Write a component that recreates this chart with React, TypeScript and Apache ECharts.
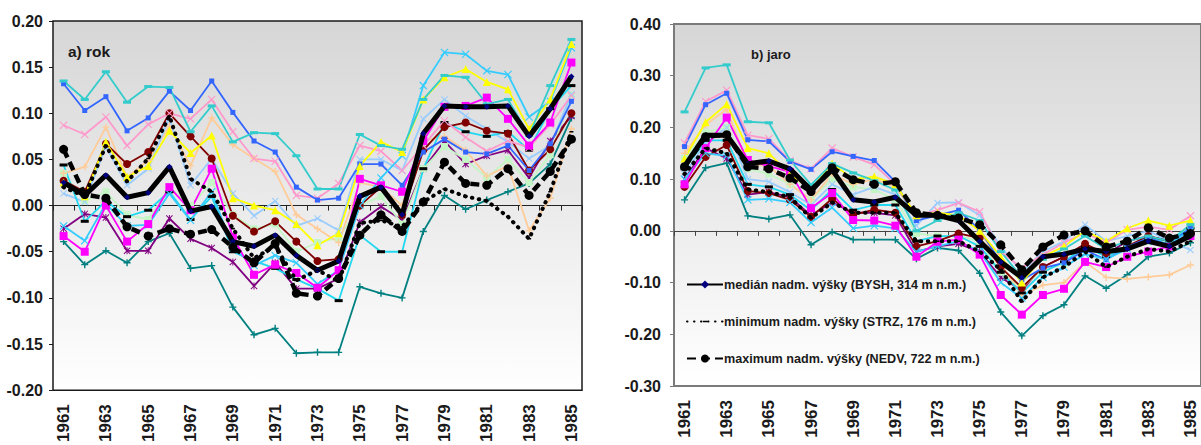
import React, { useEffect, useRef } from "react";
import * as echarts from "echarts";

const years = ["1961","1962","1963","1964","1965","1966","1967","1968","1969","1970","1971","1972","1973","1974","1975","1976","1977","1978","1979","1980","1981","1982","1983","1984","1985"];

// a) rok
const rokAqua = [0.135,0.115,0.145,0.112,0.129,0.128,0.080,0.108,0.069,0.079,0.078,0.054,0.018,0.018,0.077,0.065,0.061,0.115,0.141,0.139,0.110,0.115,0.076,0.130,0.180];
const rokBlue = [0.132,0.103,0.118,0.081,0.095,0.124,0.103,0.135,0.101,0.070,0.058,0.020,0.006,0.008,0.045,0.045,0.022,0.058,0.072,0.058,0.056,0.065,0.038,0.067,0.113];
const rokPink = [0.087,0.077,0.096,0.065,0.088,0.100,0.094,0.115,0.080,0.051,0.048,0.011,0.008,0.024,0.065,0.059,0.038,0.065,0.092,0.074,0.059,0.070,0.063,0.088,0.119];
const rokTan = [0.035,0.042,0.085,0.031,0.049,0.086,0.043,0.095,0.066,0.051,0.037,-0.010,-0.025,-0.040,0.025,0.020,0.000,0.070,0.075,0.060,0.032,0.043,-0.027,0.008,0.083];
const rokMaroon = [0.027,0.015,0.067,0.045,0.058,0.100,0.075,0.051,-0.011,-0.028,-0.017,-0.039,-0.060,-0.058,0.000,0.020,-0.010,0.060,0.085,0.090,0.081,0.078,0.038,0.061,0.100];
const rokYellow = [0.025,0.010,0.069,0.031,0.043,0.081,0.057,0.076,0.008,0.000,-0.005,-0.020,-0.043,-0.030,0.043,0.069,0.058,0.115,0.139,0.148,0.134,0.126,0.083,0.115,0.175];
const rokCyan = [-0.022,-0.038,0.002,-0.022,-0.021,0.013,-0.016,0.015,-0.046,-0.065,-0.054,-0.062,-0.085,-0.070,0.000,0.030,0.054,0.130,0.166,0.164,0.146,0.142,0.096,0.113,0.171];
const rokCyan2 = [0.044,-0.017,0.005,-0.012,-0.005,0.015,-0.015,0.010,-0.050,-0.060,-0.068,-0.080,-0.090,-0.103,-0.032,-0.050,-0.050,0.040,0.090,0.080,0.075,0.080,0.060,0.105,0.130];
const rokMagenta = [-0.033,-0.050,0.000,-0.039,-0.020,0.020,-0.005,0.040,-0.034,-0.075,-0.064,-0.073,-0.089,-0.070,0.029,0.022,0.015,0.070,0.107,0.108,0.117,0.094,0.065,0.090,0.155];
const rokLightBlue = [0.013,0.004,0.064,0.022,0.040,0.095,0.022,0.051,0.013,-0.011,0.005,-0.022,-0.014,-0.027,0.050,0.050,0.038,0.094,0.115,0.097,0.083,0.069,0.051,0.065,0.121];
const rokLightGreen = [0.035,0.005,0.015,-0.010,-0.015,0.020,0.000,0.025,-0.010,-0.025,-0.020,-0.050,-0.040,-0.035,0.000,0.010,-0.020,0.040,0.064,0.050,0.030,0.050,0.025,0.055,0.120];
const rokPurple = [-0.025,-0.009,-0.013,-0.049,-0.049,-0.014,-0.036,-0.046,-0.061,-0.087,-0.062,-0.090,-0.090,-0.079,-0.018,-0.001,-0.016,0.040,0.070,0.045,0.054,0.060,0.030,0.070,0.097];
const rokTeal = [-0.039,-0.064,-0.049,-0.062,-0.039,-0.030,-0.068,-0.065,-0.110,-0.140,-0.133,-0.160,-0.159,-0.159,-0.088,-0.095,-0.100,-0.028,0.011,-0.004,0.006,0.015,0.024,0.045,0.095];
const rokMedian = [0.025,0.011,0.033,0.009,0.014,0.042,-0.006,-0.001,-0.039,-0.044,-0.032,-0.054,-0.070,-0.060,0.010,0.020,-0.010,0.078,0.108,0.107,0.107,0.108,0.075,0.105,0.140];
const rokMin = [0.020,0.010,0.065,0.026,0.051,0.097,0.029,0.015,-0.025,-0.057,-0.044,-0.081,-0.070,-0.082,-0.019,-0.016,-0.023,0.004,0.018,0.010,0.005,-0.012,-0.036,0.015,0.080];
const rokMax = [0.061,0.012,0.008,-0.023,-0.033,-0.025,-0.031,-0.026,-0.045,-0.062,-0.041,-0.095,-0.098,-0.079,-0.032,-0.010,-0.028,0.004,0.047,0.024,0.022,0.040,0.011,0.037,0.072];

// b) jaro
const jaroAqua = [0.230,0.315,0.321,0.211,0.209,0.137,0.089,0.130,0.112,0.097,0.079,0.000,0.020,0.035,0.020,-0.040,-0.090,-0.055,-0.035,-0.010,-0.035,-0.020,-0.010,-0.020,0.012];
const jaroBlue = [0.163,0.244,0.266,0.176,0.173,0.134,0.119,0.153,0.144,0.136,0.095,0.020,0.030,0.040,0.002,-0.060,-0.095,-0.072,-0.062,-0.037,-0.056,-0.031,-0.014,-0.027,0.006];
const jaroPink = [0.170,0.250,0.272,0.185,0.178,0.136,0.120,0.160,0.143,0.128,0.090,0.030,0.040,0.054,0.037,-0.040,-0.072,-0.046,-0.023,-0.004,-0.023,0.002,0.008,0.002,0.029];
const jaroTan = [0.150,0.205,0.235,0.130,0.125,0.090,0.060,0.110,0.090,0.100,0.085,0.030,0.031,0.029,0.000,-0.065,-0.125,-0.105,-0.100,-0.060,-0.090,-0.093,-0.089,-0.085,-0.066];
const jaroYellow = [0.140,0.210,0.245,0.160,0.150,0.110,0.080,0.130,0.100,0.105,0.090,0.030,0.035,0.030,0.000,-0.050,-0.100,-0.050,-0.030,0.000,-0.020,0.005,0.020,0.010,0.020];
const jaroMaroon = [0.085,0.143,0.166,0.077,0.073,0.060,0.027,0.062,0.031,0.041,0.035,-0.030,-0.020,-0.005,-0.014,-0.070,-0.110,-0.070,-0.050,-0.025,-0.045,-0.030,-0.010,-0.020,-0.005];
const jaroCyan = [0.100,0.150,0.145,0.060,0.062,0.055,0.016,0.045,0.005,0.010,0.005,-0.040,-0.030,-0.020,-0.040,-0.100,-0.130,-0.090,-0.070,-0.045,-0.055,-0.035,-0.020,-0.025,0.000];
const jaroCyan2 = [0.120,0.175,0.175,0.090,0.085,0.070,0.040,0.080,0.040,0.050,0.050,-0.020,-0.010,-0.010,-0.030,-0.080,-0.120,-0.080,-0.060,-0.030,-0.050,-0.030,-0.015,-0.020,0.005];
const jaroMagenta = [0.090,0.160,0.219,0.137,0.125,0.114,0.044,0.073,0.021,0.020,0.010,-0.050,-0.021,-0.017,-0.046,-0.124,-0.162,-0.124,-0.112,-0.060,-0.070,-0.050,-0.040,-0.030,-0.010];
const jaroLightBlue = [0.110,0.170,0.200,0.100,0.095,0.075,0.050,0.090,0.070,0.085,0.070,0.010,0.054,0.055,0.030,-0.030,-0.080,-0.040,-0.020,0.012,-0.020,-0.010,0.000,-0.020,-0.037];
const jaroLightGreen = [0.140,0.190,0.200,0.120,0.110,0.090,0.060,0.100,0.085,0.080,0.060,-0.005,-0.010,-0.010,-0.020,-0.080,-0.110,-0.075,-0.065,-0.030,-0.050,-0.030,-0.020,-0.020,0.010];
const jaroPurple = [0.100,0.160,0.140,0.070,0.075,0.065,0.030,0.055,0.035,0.035,0.030,-0.040,-0.030,-0.025,-0.040,-0.090,-0.115,-0.070,-0.050,-0.030,-0.045,-0.020,-0.010,-0.020,-0.010];
const jaroTeal = [0.060,0.122,0.131,0.029,0.023,0.031,-0.027,-0.002,-0.017,-0.017,-0.017,-0.054,-0.033,-0.038,-0.082,-0.157,-0.203,-0.164,-0.143,-0.087,-0.111,-0.085,-0.050,-0.043,-0.023];
const jaroMedian = [0.125,0.185,0.185,0.130,0.135,0.120,0.079,0.118,0.060,0.056,0.065,0.030,0.030,0.020,-0.020,-0.060,-0.090,-0.050,-0.045,-0.035,-0.040,-0.035,-0.020,-0.030,-0.010];
const jaroMin = [0.110,0.160,0.150,0.080,0.075,0.065,0.025,0.055,0.035,0.035,0.035,-0.020,-0.020,-0.020,-0.040,-0.075,-0.137,-0.090,-0.070,-0.040,-0.070,-0.050,-0.035,-0.040,-0.020];
const jaroMax = [0.124,0.182,0.186,0.124,0.120,0.102,0.076,0.122,0.099,0.090,0.095,0.035,0.030,0.025,0.012,-0.027,-0.075,-0.031,-0.008,0.000,-0.031,-0.020,0.006,-0.014,-0.005];

const legendNames = [
  "medián nadm. výšky (BYSH, 314 m n.m.)",
  "minimum nadm. výšky (STRZ, 176 m n.m.)",
  "maximum nadm. výšky (NEDV, 722 m n.m.)",
];

const FONT = "'Liberation Sans', Arial, sans-serif";
const X_SYM = "path://M0,1L1,0L5,4L9,0L10,1L6,5L10,9L9,10L5,6L1,10L0,9L4,5Z";
const PLUS_SYM = "path://M4,0H6V4H10V6H6V10H4V6H0V4H4Z";
const STAR_SYM = "path://M0,1L1,0L5,4L9,0L10,1L6,5L10,9L9,10L5,6L1,10L0,9L4,5ZM4.3,0H5.7V10H4.3Z";
const SMALL_DASH_SYM = "path://M0,0L0.01,0L0,0.01ZM10,10L9.99,10L10,9.99ZM2.5,4H7.5V6H2.5Z";

type Spec = { rok: number[]; jaro: number[]; color: string; symbol: string; size: number | number[]; mark?: string };

const specs: Spec[] = [
  { rok: rokTeal, jaro: jaroTeal, color: "#008080", symbol: PLUS_SYM, size: 7 },
  { rok: rokPurple, jaro: jaroPurple, color: "#800080", symbol: STAR_SYM, size: 7 },
  { rok: rokLightGreen, jaro: jaroLightGreen, color: "#C4F5C4", symbol: "rect", size: 7 },
  { rok: rokTan, jaro: jaroTan, color: "#FFCC99", symbol: PLUS_SYM, size: 7 },
  { rok: rokLightBlue, jaro: jaroLightBlue, color: "#99CCFF", symbol: X_SYM, size: 7 },
  { rok: rokCyan2, jaro: jaroCyan2, color: "#22D8F0", symbol: "rect", size: [8, 3], mark: "#000000" },
  { rok: rokMaroon, jaro: jaroMaroon, color: "#800000", symbol: "circle", size: 8 },
  { rok: rokPink, jaro: jaroPink, color: "#FF99CC", symbol: X_SYM, size: 8 },
  { rok: rokBlue, jaro: jaroBlue, color: "#3366FF", symbol: "rect", size: 5 },
  { rok: rokCyan, jaro: jaroCyan, color: "#33CCFF", symbol: X_SYM, size: 8 },
  { rok: rokMagenta, jaro: jaroMagenta, color: "#FF00FF", symbol: "rect", size: 8 },
  { rok: rokYellow, jaro: jaroYellow, color: "#FFFF00", symbol: "triangle", size: 8 },
  { rok: rokAqua, jaro: jaroAqua, color: "#33CCCC", symbol: "rect", size: [8, 3] },
];

function buildOption() {
  const gradient = () =>
    new echarts.graphic.LinearGradient(0, 0, 0, 1, [
      { offset: 0, color: "#D6D6D6" },
      { offset: 1, color: "#FFFFFF" },
    ]);

  const series: any[] = [];
  [0, 1].forEach((g) => {
    specs.forEach((s) => {
      series.push({
        type: "line",
        xAxisIndex: g * 2,
        yAxisIndex: g,
        data: g === 0 ? s.rok : s.jaro,
        symbol: s.symbol,
        symbolSize: s.size,
        lineStyle: { color: s.color, width: 1.8 },
        itemStyle: { color: s.mark || s.color },
        silent: true,
        z: 2,
      });
    });
    const med = g === 0 ? rokMedian : jaroMedian;
    const mn = g === 0 ? rokMin : jaroMin;
    const mx = g === 0 ? rokMax : jaroMax;
    series.push({
      name: g === 1 ? legendNames[0] : "rok-median",
      type: "line",
      xAxisIndex: g * 2,
      yAxisIndex: g,
      data: med,
      symbol: "diamond",
      symbolSize: 6,
      lineStyle: { color: "#000000", width: 5 },
      itemStyle: { color: "#000080" },
      silent: true,
      z: 4,
    });
    series.push({
      name: g === 1 ? legendNames[1] : "rok-min",
      type: "line",
      xAxisIndex: g * 2,
      yAxisIndex: g,
      data: mn,
      symbol: SMALL_DASH_SYM,
      symbolSize: 8,
      lineStyle: { color: "#000000", width: 4, type: [0.5, 6.5], cap: "round" },
      itemStyle: { color: "#000000" },
      silent: true,
      z: 4,
    });
    series.push({
      name: g === 1 ? legendNames[2] : "rok-max",
      type: "line",
      xAxisIndex: g * 2,
      yAxisIndex: g,
      data: mx,
      symbol: "circle",
      symbolSize: 9,
      lineStyle: { color: "#000000", width: 4.5, type: [9, 5] },
      itemStyle: { color: "#000000" },
      silent: true,
      z: 4,
    });
  });

  const axisColors = ["#1a1a1a", "#7a7a7a"];
  const xAxes: any[] = [];
  [0, 1].forEach((g) => {
    xAxes.push({
      type: "category",
      gridIndex: g,
      data: years,
      boundaryGap: true,
      axisLine: { show: true, onZero: true, lineStyle: { color: g === 0 ? "#222" : "#444", width: 1 } },
      axisTick: { show: true, interval: 0, length: 5, lineStyle: { color: g === 0 ? "#222" : "#444" } },
      axisLabel: { show: false },
      splitLine: { show: false },
    });
    xAxes.push({
      type: "category",
      gridIndex: g,
      data: years,
      position: "bottom",
      boundaryGap: true,
      axisLine: { show: false, onZero: false },
      axisTick: { show: false },
      axisLabel: {
        show: true,
        rotate: 90,
        interval: 1,
        margin: 14,
        fontFamily: FONT,
        fontWeight: "bold",
        fontSize: 17,
        color: "#1a1a1a",
      },
      splitLine: { show: false },
    });
  });

  const yAxes: any[] = [
    {
      type: "value",
      gridIndex: 0,
      min: -0.2,
      max: 0.2,
      interval: 0.05,
      axisLine: { show: false },
      axisTick: { show: true, length: 4, lineStyle: { color: axisColors[0] } },
      axisLabel: {
        formatter: (v: number) => v.toFixed(2),
        margin: 10,
        fontFamily: FONT,
        fontWeight: "bold",
        fontSize: 16,
        color: "#1a1a1a",
      },
      splitLine: { show: false },
    },
    {
      type: "value",
      gridIndex: 1,
      min: -0.3,
      max: 0.4,
      interval: 0.1,
      axisLine: { show: false },
      axisTick: { show: true, length: 4, lineStyle: { color: axisColors[1] } },
      axisLabel: {
        formatter: (v: number) => v.toFixed(2),
        margin: 13,
        fontFamily: FONT,
        fontWeight: "bold",
        fontSize: 16,
        color: "#1a1a1a",
      },
      splitLine: { show: false },
    },
  ];

  return {
    animation: false,
    backgroundColor: "#FFFFFF",
    grid: [
      {
        left: 53,
        top: 21,
        width: 529,
        height: 371,
        show: true,
        backgroundColor: gradient(),
        borderColor: axisColors[0],
        borderWidth: 1.5,
      },
      {
        left: 674,
        top: 24,
        width: 527,
        height: 362,
        show: true,
        backgroundColor: gradient(),
        borderColor: axisColors[1],
        borderWidth: 2,
      },
    ],
    title: [
      {
        text: "a) rok",
        left: 63,
        top: 38,
        textStyle: { fontFamily: FONT, fontWeight: "bold", fontSize: 15.5, color: "#1a1a1a" },
      },
      {
        text: "b) jaro",
        left: 746,
        top: 43,
        textStyle: { fontFamily: FONT, fontWeight: "bold", fontSize: 13, color: "#1a1a1a" },
      },
    ],
    legend: {
      data: legendNames,
      orient: "vertical",
      left: 681,
      top: 273,
      itemWidth: 36,
      itemHeight: 10,
      itemGap: 24,
      selectedMode: false,
      textStyle: { fontFamily: FONT, fontWeight: "bold", fontSize: 12.6, color: "#1a1a1a", padding: [0, 0, 0, -4] },
    },
    xAxis: xAxes,
    yAxis: yAxes,
    series,
  };
}

export default function App() {
  const ref = useRef<HTMLDivElement>(null);
  useEffect(() => {
    if (!ref.current) return;
    const chart = echarts.init(ref.current, undefined, { renderer: "svg" });
    chart.setOption(buildOption() as any);
    return () => chart.dispose();
  }, []);
  return (
    <div
      ref={ref}
      style={{ position: "absolute", left: 0, top: 0, width: 1201, height: 445, background: "#fff" }}
    />
  );
}
